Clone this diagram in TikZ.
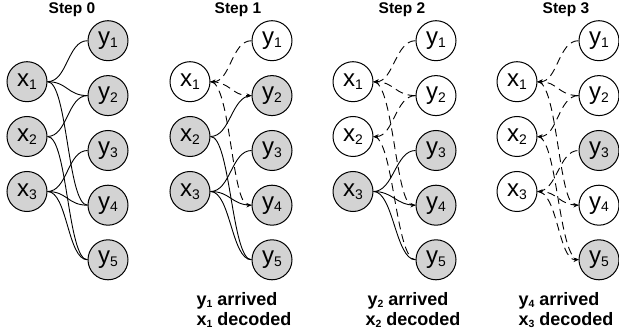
\documentclass[tikz,border=0pt]{standalone}
\usepackage{fontspec}
\setmainfont{Liberation Sans}
\usetikzlibrary{arrows.meta,backgrounds}
\definecolor{nodegray}{RGB}{211,211,211}
% lowered, smaller index for variable names
\newcommand{\idx}[1]{\raisebox{-0.12em}{\scalebox{0.58}{#1}}}

\tikzset{
  vnode/.style={circle, draw, line width=1pt, minimum size=40pt, inner sep=0pt,
                font=\fontsize{24}{24}\selectfont},
  full/.style={vnode, fill=nodegray},
  done/.style={vnode, fill=white},
  wire/.style={line width=0.9pt},
  gone/.style={wire, dash pattern=on 8pt off 5pt},
  tip/.style={-{Stealth[length=5pt,width=4.5pt]}},
  curve/.style={to path={.. controls +(20,0) and +(-20,0) .. (\tikztotarget)}},
  back/.style={to path={.. controls +(-20,0) and +(20,0) .. (\tikztotarget)}},
  title/.style={anchor=base, font=\fontsize{15.5}{18}\selectfont\bfseries},
  caption/.style={anchor=base west, font=\fontsize{18}{20}\selectfont\bfseries},
}

\begin{document}
\begin{tikzpicture}[x=1pt, y=-1pt]
\useasboundingbox (0,0) rectangle (619,334);

% ---------- titles ----------
\node[title] (t0) at (72,14) {Step 0};
\node[title] (t1) at (238,14) {Step 1};
\node[title] (t2) at (402,14) {Step 2};
\node[title] (t3) at (566,14) {Step 3};

% ---------- Step 0 ----------
\node[full] (a1) at (27,81.7) {x\idx{1}};
\node[full] (a2) at (27,136.5) {x\idx{2}};
\node[full] (a3) at (27,191.5) {x\idx{3}};
\node[full] (ay1) at (108,40.7) {y\idx{1}};
\node[full] (ay2) at (108,95.6) {y\idx{2}};
\node[full] (ay3) at (108,150.5) {y\idx{3}};
\node[full] (ay4) at (108,205.2) {y\idx{4}};
\node[full] (ay5) at (108,259.8) {y\idx{5}};
\begin{scope}[on background layer]
\draw[wire] (a1.east) to[curve] (ay1.west);
\draw[wire] (a1.east) to[curve] (ay2.west);
\draw[wire] (a1.east) to[curve] (ay4.west);
\draw[wire] (a2.east) to[curve] (ay2.west);
\draw[wire] (a2.east) to[curve] (ay5.west);
\draw[wire] (a3.east) to[curve] (ay3.west);
\draw[wire] (a3.east) to[curve] (ay4.west);
\draw[wire] (a3.east) to[curve] (ay5.west);
\end{scope}

% ---------- Step 1 ----------
\node[done] (b1) at (190,81.7) {x\idx{1}};
\node[full] (b2) at (190,136.5) {x\idx{2}};
\node[full] (b3) at (190,191.5) {x\idx{3}};
\node[done] (by1) at (272,40.7) {y\idx{1}};
\node[full] (by2) at (272,95.6) {y\idx{2}};
\node[full] (by3) at (272,150.5) {y\idx{3}};
\node[full] (by4) at (272,205.2) {y\idx{4}};
\node[full] (by5) at (272,259.8) {y\idx{5}};
\begin{scope}[on background layer]
\draw[gone,tip] (by1.west) to[back] (b1.east);
\draw[gone,tip] (b1.east) to[curve] (by2.west);
\draw[gone,tip] (b1.east) to[curve] (by4.west);
\draw[wire] (b2.east) to[curve] (by2.west);
\draw[wire] (b2.east) to[curve] (by5.west);
\draw[wire] (b3.east) to[curve] (by3.west);
\draw[wire] (b3.east) to[curve] (by4.west);
\draw[wire] (b3.east) to[curve] (by5.west);
\end{scope}
\node[caption] (c1a) at (193,305) {y\idx{1} arrived};
\node[caption] (c1b) at (193,325) {x\idx{1} decoded};

% ---------- Step 2 ----------
\node[done] (d1) at (353,81.7) {x\idx{1}};
\node[done] (d2) at (353,136.5) {x\idx{2}};
\node[full] (d3) at (353,191.5) {x\idx{3}};
\node[done] (dy1) at (436,40.7) {y\idx{1}};
\node[done] (dy2) at (436,95.6) {y\idx{2}};
\node[full] (dy3) at (436,150.5) {y\idx{3}};
\node[full] (dy4) at (436,205.2) {y\idx{4}};
\node[full] (dy5) at (436,259.8) {y\idx{5}};
\begin{scope}[on background layer]
\draw[gone,tip] (dy1.west) to[back] (d1.east);
\draw[gone,tip] (dy2.west) to[back] (d1.east);
\draw[gone,tip] (d1.east) to[curve] (dy4.west);
\draw[gone,tip] (dy2.west) to[back] (d2.east);
\draw[gone] (d2.east) to[curve] (dy5.west);
\draw[wire] (d3.east) to[curve] (dy3.west);
\draw[wire] (d3.east) to[curve] (dy4.west);
\draw[wire] (d3.east) to[curve] (dy5.west);
\end{scope}
\node[caption] (c2a) at (364,305) {y\idx{2} arrived};
\node[caption] (c2b) at (362,325) {x\idx{2} decoded};

% ---------- Step 3 ----------
\node[done] (e1) at (517,81.7) {x\idx{1}};
\node[done] (e2) at (517,136.5) {x\idx{2}};
\node[done] (e3) at (517,191.5) {x\idx{3}};
\node[done] (ey1) at (599,40.7) {y\idx{1}};
\node[done] (ey2) at (599,95.6) {y\idx{2}};
\node[full] (ey3) at (599,150.5) {y\idx{3}};
\node[done] (ey4) at (599,205.2) {y\idx{4}};
\node[full] (ey5) at (599,259.8) {y\idx{5}};
\begin{scope}[on background layer]
\draw[gone,tip] (ey1.west) to[back] (e1.east);
\draw[gone,tip] (ey2.west) to[back] (e1.east);
\draw[gone,tip] (e1.east) to[curve] (ey4.west);
\draw[gone,tip] (ey2.west) to[back] (e2.east);
\draw[gone] (e2.east) to[curve] (ey5.west);
\draw[gone] (e3.east) to[curve] (ey3.west);
\draw[gone,tip] (ey4.west) to[back] (e3.east);
\draw[gone,tip] (e3.east) to[curve] (ey5.west);
\end{scope}
\node[caption] (c3a) at (515,305) {y\idx{4} arrived};
\node[caption] (c3b) at (515,325) {x\idx{3} decoded};
\end{tikzpicture}
\end{document}
